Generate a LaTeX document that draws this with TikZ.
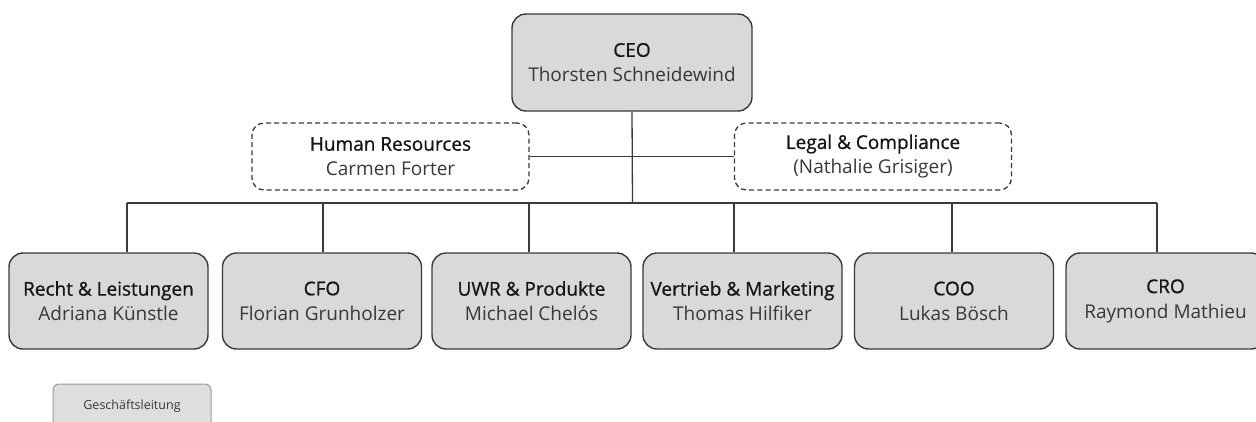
\documentclass[tikz,border=0pt]{standalone}
\usepackage{fontspec}
\setmainfont{Open Sans}
\newfontfamily\headfont[FakeBold=0.85]{Open Sans}
\definecolor{boxfill}{HTML}{D9D9D9}
\definecolor{boxline}{HTML}{3A3A3A}
\definecolor{txtone}{HTML}{151515}
\definecolor{txttwo}{HTML}{383838}
\definecolor{legfill}{HTML}{DEDEDE}
\definecolor{legline}{HTML}{9A9A9A}
\newcommand{\twoline}[2]{{\headfont\color{txtone}#1}\\{\color{txttwo}#2}}
\tikzset{
  box/.style={draw=boxline, fill=boxfill, rounded corners=14pt, line width=1.4pt,
    minimum width=199pt, minimum height=96pt, align=center, inner sep=0pt,
    font=\fontsize{19}{25}\selectfont},
  ceobox/.style={box, minimum width=240pt, minimum height=97pt},
  staff/.style={draw=boxline, dash pattern=on 5pt off 3.2pt, rounded corners=12pt,
    line width=1.3pt, minimum width=277pt, minimum height=67pt, align=center,
    inner sep=0pt, font=\fontsize{19}{25}\selectfont},
  conn/.style={draw=boxline, line width=1.3pt},
  legend/.style={draw=legline, fill=legfill, rounded corners=6pt, line width=1pt,
    minimum width=158pt, minimum height=44pt, inner sep=0pt,
    font=\fontsize{12.5}{15}\selectfont, text=txttwo}
}
\begin{document}
\begin{tikzpicture}[x=1pt,y=-1pt]
\useasboundingbox (0,0) rectangle (1256,421);
\node[ceobox] (ceo) at (632,62.5) {\twoline{CEO}{Thorsten Schneidewind}};
\node[staff] (hr) at (390.5,156.5) {\twoline{Human Resources}{Carmen Forter}};
\node[staff] (legal) at (873,156.5) {\twoline{Legal \& Compliance}{(Nathalie Grisiger)}};
\node[box] (b1) at (108.5,301) {\twoline{Recht \& Leistungen}{Adriana Künstle}};
\node[box] (b2) at (322,301) {\twoline{CFO}{Florian Grunholzer}};
\node[box] (b3) at (531.5,301) {\twoline{UWR \& Produkte}{Michael Chelós}};
\node[box] (b4) at (742.5,301) {\twoline{Vertrieb \& Marketing}{Thomas Hilfiker}};
\node[box] (b5) at (954,301) {\twoline{COO}{Lukas Bösch}};
\node[box] (b6) at (1165.5,301) {\twoline{CRO}{Raymond Mathieu}};
\node[legend] (leg) at (132,406) {Geschäftsleitung};
\coordinate (bus) at (632.5,203);
\coordinate (t1) at (127,203);
\coordinate (t2) at (323,203);
\coordinate (t3) at (529,203);
\coordinate (t4) at (734,203);
\coordinate (t5) at (952,203);
\coordinate (t6) at (1157,203);
\draw[conn] (ceo.south) -- (bus);
\draw[conn] (hr.east) -- (legal.west);
\draw[conn] (t1) -- (t6);
\foreach \i in {1,...,6} {\draw[conn] (t\i) -- (t\i |- b\i.north);}
\end{tikzpicture}
\end{document}
